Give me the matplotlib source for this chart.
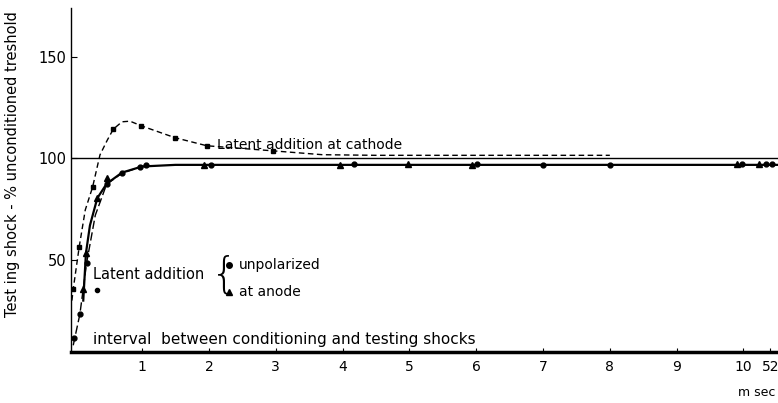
import numpy as np
import matplotlib
matplotlib.use("Agg")
import matplotlib.pyplot as plt

# x values are positions on the (broken) time axis, in m sec; 10.4 is the "52" mark
xtick_pos = [1, 2, 3, 4, 5, 6, 7, 8, 9, 10, 10.4]
xtick_lab = ['1', '2', '3', '4', '5', '6', '7', '8', '9', '10', '52']
ytick_pos = [50, 100, 150]

# latent addition at cathode (dashed)
cath_x = [-0.03, 0.06, 0.26, 0.57, 0.99, 1.49, 1.97, 2.96]
cath_y = [35.7, 56.6, 85.9, 114.4, 116.0, 110.2, 106.2, 103.7]
cath_cx = [-0.05, -0.03, 0.06, 0.15, 0.26, 0.37, 0.48, 0.57, 0.70, 0.82, 0.99, 1.49, 1.97, 2.96, 3.7, 4.5, 6.0, 8.0]
cath_cy = [30.0, 35.7, 56.6, 74.6, 85.9, 101.7, 109.0, 114.4, 118.0, 118.3, 116.0, 110.2, 106.2, 103.7, 101.8, 101.5, 101.5, 101.5]

# unpolarized (dots)
unp_x = [-0.02, 0.07, 0.17, 0.47, 0.70, 0.97, 1.06, 2.03, 4.17, 6.01, 7.0, 8.0, 9.98, 10.34, 10.43]
unp_y = [11.6, 23.4, 48.5, 87.3, 92.7, 95.7, 96.5, 96.5, 97.3, 97.3, 96.8, 96.8, 97.0, 97.0, 97.0]
unp_cx = [-0.03, 0.07, 0.17, 0.30, 0.47, 0.70, 0.97, 1.1]
unp_cy = [8.0, 23.4, 48.5, 72.0, 87.3, 92.7, 95.7, 96.5]
odd_x = [0.33]
odd_y = [35.0]

# at anode (triangles, solid)
an_x = [0.11, 0.16, 0.33, 0.47, 1.93, 3.96, 4.98, 5.94, 9.9, 10.23]
an_y = [35.7, 53.3, 80.4, 90.2, 96.5, 96.8, 97.4, 96.8, 97.0, 97.0]
an_cx = [0.12, 0.16, 0.22, 0.33, 0.47, 0.7, 1.0, 1.5, 3.0, 6.0, 10.5]
an_cy = [30.0, 53.3, 67.0, 80.4, 87.5, 93.0, 96.0, 96.8, 96.8, 96.8, 96.8]

plt.rcParams['font.family'] = ['DejaVu Sans']
fig = plt.figure(figsize=(7.78, 4.03), dpi=100)
ax = fig.add_axes([0.0913, 0.1266, 0.909, 0.8535])

# reference line at 100 %
ax.axhline(100, color='black', lw=1.0)

ax.plot(cath_cx, cath_cy, color='black', lw=1.0, ls=(0, (4, 2.5)))
ax.plot(cath_x, cath_y, 's', color='black', ms=3.5)

ax.plot(unp_cx, unp_cy, color='black', lw=1.0, ls=(0, (6, 2.5)))
ax.plot(unp_x, unp_y, 'o', color='black', ms=3.5)
ax.plot(odd_x, odd_y, 'o', color='black', ms=3)

ax.plot(an_cx, an_cy, color='black', lw=1.6)
ax.plot(an_x, an_y, '^', color='black', ms=4)

ax.set_xlim(-0.063, 10.52)
ax.set_ylim(4.7, 174)
ax.set_xticks(xtick_pos)
ax.set_xticklabels(xtick_lab)
ax.set_yticks(ytick_pos)
ax.tick_params(axis='x', direction='in', length=3, labelsize=10, pad=6)
ax.tick_params(axis='y', direction='in', length=4, labelsize=10.5)
ax.spines['top'].set_visible(False)
ax.spines['right'].set_visible(False)
ax.spines['bottom'].set_linewidth(2.5)
ax.spines['left'].set_linewidth(1.0)

ax.set_ylabel('Test ing shock - % unconditioned treshold', fontsize=10.5)
ax.yaxis.set_label_coords(-0.072, 0.545)

ax.text(2.12, 106.5, 'Latent addition at cathode', fontsize=10, va='center', ha='left')
ax.text(0.26, 42.6, 'Latent addition', fontsize=10.5, va='center', ha='left')
ax.text(2.03, 42.6, '{', fontsize=30, va='center', ha='left', fontweight='light')
ax.plot([2.3], [47.5], 'o', color='black', ms=4)
ax.text(2.45, 47.5, 'unpolarized', fontsize=10, va='center', ha='left')
ax.plot([2.3], [34.2], '^', color='black', ms=4)
ax.text(2.45, 34.2, 'at anode', fontsize=10, va='center', ha='left')
ax.text(0.26, 11.0, 'interval  between conditioning and testing shocks', fontsize=11,
        va='center', ha='left')
fig.text(0.996, 0.025, 'm sec', fontsize=9, ha='right', va='center')

fig.savefig('out.png', dpi=100)
